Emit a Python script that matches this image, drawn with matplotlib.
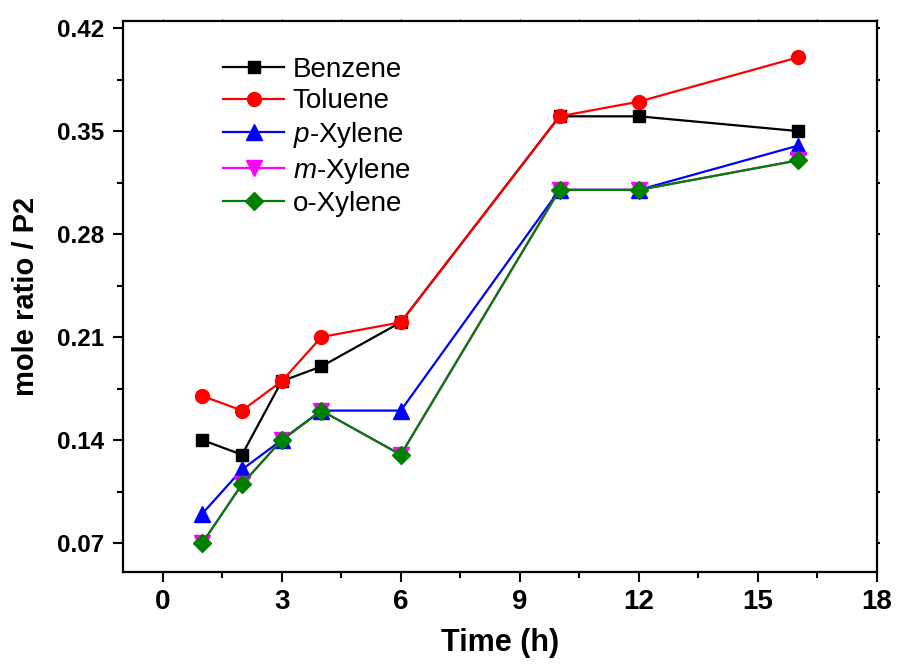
import matplotlib
matplotlib.use('Agg')
import matplotlib.pyplot as plt
from matplotlib.ticker import MultipleLocator

plt.rcParams['font.family'] = ['Liberation Sans', 'DejaVu Sans']
plt.rcParams['mathtext.fontset'] = 'custom'
plt.rcParams['mathtext.it'] = 'Liberation Sans:italic'
plt.rcParams['mathtext.rm'] = 'Liberation Sans'

# sampling times (h)
time_h = [1, 2, 3, 4, 6, 10, 12, 16]

# mole ratio relative to P2
benzene = [0.14, 0.13, 0.18, 0.19, 0.22, 0.36, 0.36, 0.35]
toluene = [0.17, 0.16, 0.18, 0.21, 0.22, 0.36, 0.37, 0.40]
p_xylene = [0.09, 0.12, 0.14, 0.16, 0.16, 0.31, 0.31, 0.34]
m_xylene = [0.07, 0.11, 0.14, 0.16, 0.13, 0.31, 0.31, 0.33]
o_xylene = [0.07, 0.11, 0.14, 0.16, 0.13, 0.31, 0.31, 0.33]

y_ticks = [0.07, 0.14, 0.21, 0.28, 0.35, 0.42]
x_ticks = [0, 3, 6, 9, 12, 15, 18]

fig = plt.figure(figsize=(8.99, 6.68), dpi=100)
ax = fig.add_axes([0.1368, 0.1437, 0.8387, 0.8249])

ax.plot(time_h, benzene, '-s', color='black', lw=1.6, ms=9, label='Benzene')
ax.plot(time_h, toluene, '-o', color='red', lw=1.6, ms=10, label='Toluene')
ax.plot(time_h, p_xylene, '-^', color='blue', lw=1.6, ms=11, label='$\\it{p}$-Xylene')
ax.plot(time_h, m_xylene, '-v', color='magenta', lw=1.6, ms=11, label='$\\it{m}$-Xylene')
ax.plot(time_h, o_xylene, '-D', color='green', lw=1.6, ms=9, label='o-Xylene')

ax.set_xlim(-1, 18)
ax.set_ylim(0.0503, 0.4248)
ax.set_xticks(x_ticks)
ax.set_xticklabels([str(v) for v in x_ticks], fontsize=20, fontweight='bold')
ax.xaxis.set_minor_locator(MultipleLocator(1.5))
ax.set_yticks(y_ticks)
ax.set_yticklabels(['%.2f' % v for v in y_ticks], fontsize=17.5,
                   fontweight='bold')
ax.yaxis.set_minor_locator(MultipleLocator(0.035))

for s in ax.spines.values():
    s.set_linewidth(1.6)
ax.tick_params(which='major', direction='out', length=7.5, width=1.5)
ax.tick_params(which='minor', direction='out', length=4.5, width=1.5)
ax.tick_params(axis='x', which='major', pad=5)
ax.tick_params(axis='y', which='major', pad=6)
# short ticks on the opposite frame edges
ax.tick_params(which='both', right=True, top=True)
for t in ax.yaxis.get_major_ticks() + ax.yaxis.get_minor_ticks():
    t.tick2line.set_markersize(2)
for t in ax.xaxis.get_major_ticks() + ax.xaxis.get_minor_ticks():
    t.tick2line.set_markersize(1.5)
    t.tick2line.set_color('#b0b0b0')
    t.tick2line.set_markeredgewidth(0.8)

ax.set_xlabel('Time (h)', fontsize=22, fontweight='bold', labelpad=9)
ax.set_ylabel('mole ratio / P2', fontsize=21, fontweight='bold', labelpad=12)

ax.legend(loc='upper left', bbox_to_anchor=(0.118, 0.955), frameon=False,
          fontsize=20, handlelength=2.2, handletextpad=0.3, labelspacing=0.2,
          borderaxespad=0)

fig.savefig('out.png', dpi=100)
